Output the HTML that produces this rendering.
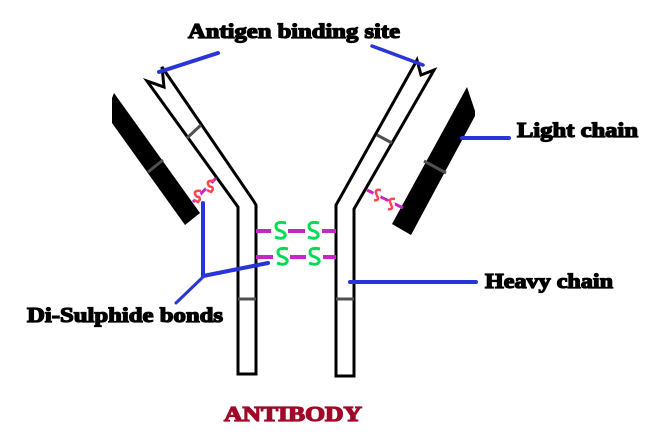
<!DOCTYPE html>
<html><head><meta charset="utf-8"><style>
html,body{margin:0;padding:0;background:#fff;width:650px;height:444px;overflow:hidden}
svg{display:block;filter:blur(.35px)}
text{font-family:"Liberation Serif",serif;font-weight:bold;font-size:21px;fill:#000;stroke:#000;stroke-width:1.3px}
</style></head><body>
<svg width="650" height="444" viewBox="0 0 650 444" xmlns="http://www.w3.org/2000/svg">
<rect width="650" height="444" fill="#fff"/>
<g fill="none" stroke="#000" stroke-width="3" stroke-linejoin="miter">
<path d="M162 67L253 200L256 205V374H238V207L147 81L164 87Z"/>
<path d="M417 60L340 198L336 205V376H354V209L434 70L421 75Z"/>
</g>
<path d="M114 93L112 98V123L185 225L200 213Z" fill="#000"/>
<path d="M467 87L475 111V116L411 235L392 224Z" fill="#000"/>
<g stroke="#505050" stroke-width="3" fill="none">
<path d="M187 138L201 125M148 172L163 160M377 135L392 143M424 161L446 173M238 299H256M336 299H354"/>
</g>
<g stroke="#c526c5" stroke-width="4" fill="none">
<path d="M256 231H336M256 257H336"/>
<path d="M193 202L216 178M367 190L403 208" stroke-width="3"/>
</g>
<g fill="#fff" stroke="none">
<rect x="271" y="222" width="17" height="18"/><rect x="305" y="222" width="17" height="18"/>
<rect x="273" y="248" width="17" height="18"/><rect x="306" y="248" width="17" height="18"/>
<circle cx="197" cy="196" r="4"/><circle cx="209" cy="186" r="4"/>
<circle cx="377" cy="195" r="4"/><circle cx="391" cy="204" r="4"/>
</g>
<g fill="none" stroke="#00dd55" stroke-width="3">
<path d="M286 223Q276 221 276 226Q276 230 281 231Q286 233 285 236Q283 240 275 237"/>
<path d="M319 223Q309 221 309 226Q309 230 314 231Q319 233 318 236Q316 240 308 237"/>
<path d="M288 249Q278 247 278 252Q278 256 283 257Q288 259 287 262Q285 266 277 263"/>
<path d="M320 249Q310 247 310 252Q310 256 315 257Q320 259 319 262Q317 266 309 263"/>
</g>
<g fill="none" stroke="#ff4455" stroke-width="2.5">
<path d="M201 191Q194 190 195 194Q196 197 199 197Q201 199 198 202L194 200"/>
<path d="M214 181Q207 180 208 184Q209 187 212 187Q214 189 211 192L207 190"/>
<path d="M381 190Q375 189 376 193Q377 196 378 198Q378 201 374 200"/>
<path d="M395 199Q389 198 390 202Q391 205 392 207Q392 210 388 209"/>
</g>
<g fill="none" stroke="#2a35d8" stroke-width="4" stroke-linecap="round">
<path d="M159 72L218 53"/>
<path d="M372 46L423 65" stroke-width="3.5"/>
<path d="M462 138H509"/>
<path d="M350 282H476"/>
<path d="M203 203V276L268 263"/>
<path d="M203 277L176 303" stroke-width="3"/>
</g>
<text x="188" y="38" textLength="212" lengthAdjust="spacingAndGlyphs">Antigen binding site</text>
<text x="517" y="137" textLength="121" lengthAdjust="spacingAndGlyphs">Light chain</text>
<text x="485" y="288" textLength="128" lengthAdjust="spacingAndGlyphs">Heavy chain</text>
<text x="27" y="322" textLength="196" lengthAdjust="spacingAndGlyphs">Di-Sulphide bonds</text>
<text x="224" y="421" textLength="138" lengthAdjust="spacingAndGlyphs" style="fill:#a00828;stroke:#a00828">ANTIBODY</text>
</svg>
</body></html>
